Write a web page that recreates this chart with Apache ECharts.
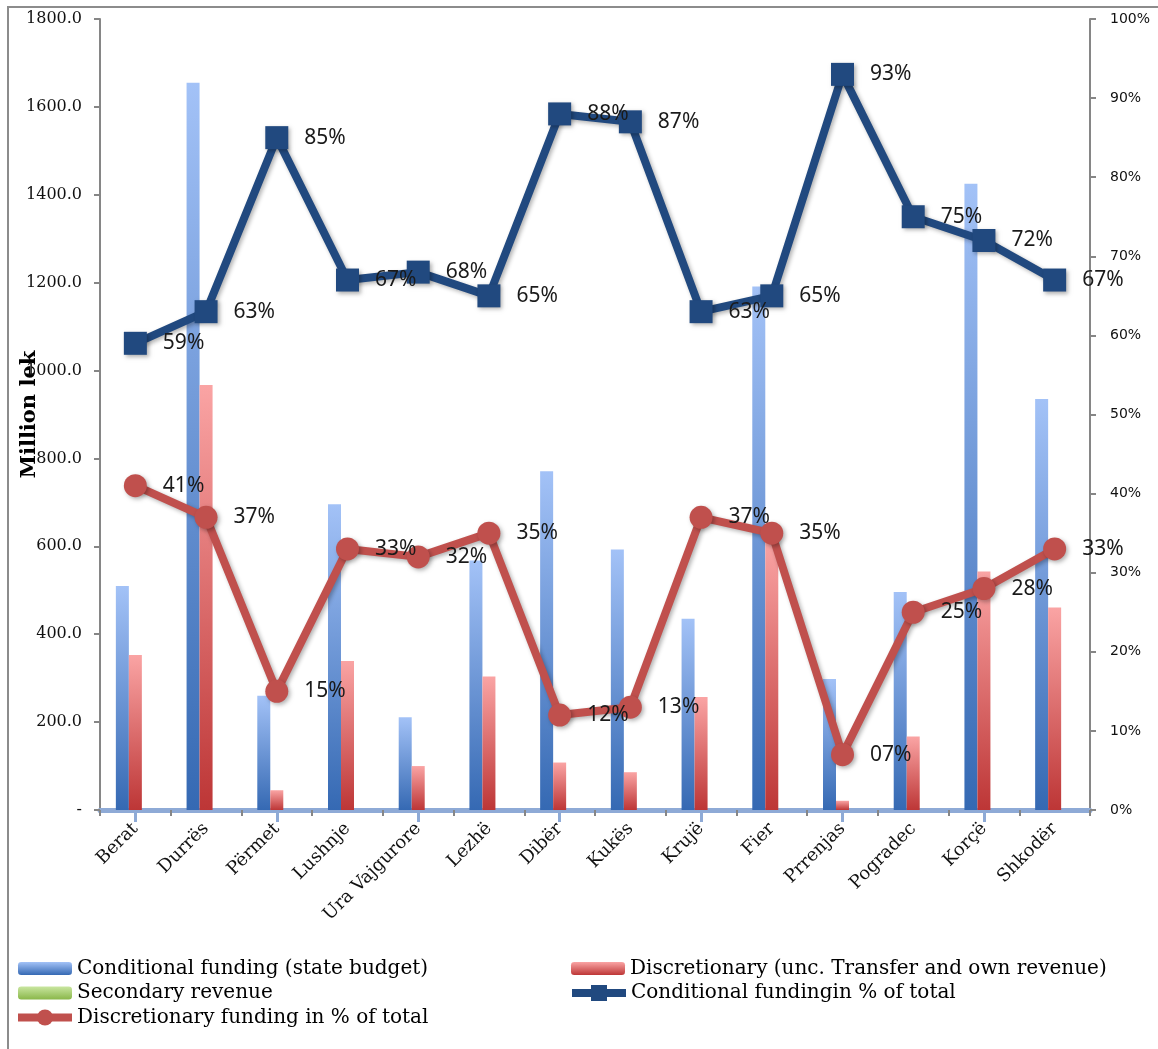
<!DOCTYPE html>
<html>
<head>
<meta charset="utf-8">
<title>Conditional and discretionary funding by municipality</title>
<script src="https://cdn.jsdelivr.net/npm/echarts@6/dist/echarts.min.js"></script>
<style>
  html, body { margin: 0; padding: 0; background: #ffffff; }
  #chart { width: 1158px; height: 1049px; }
</style>
</head>
<body>
<div id="chart"></div>
<script>
// Municipalities along the category axis
const categories = ['Berat', 'Durrës', 'Përmet', 'Lushnje', 'Ura Vajgurore', 'Lezhë', 'Dibër',
  'Kukës', 'Krujë', 'Fier', 'Prrenjas', 'Pogradec', 'Korçë', 'Shkodër'];

// Funding amounts, million lek
const conditionalFunding = [510, 1655, 260, 696, 211, 568, 771, 593, 435, 1191, 298, 496, 1425, 935];
const discretionaryFunding = [353, 967, 45, 339, 100, 304, 108, 86, 257, 615, 21, 167, 543, 461];
const secondaryRevenue = [0, 0, 0, 0, 0, 0, 0, 0, 0, 0, 0, 0, 0, 0];

// Shares of total funding, percent
const conditionalShare = [59, 63, 85, 67, 68, 65, 88, 87, 63, 65, 93, 75, 72, 67];
const discretionaryShare = [41, 37, 15, 33, 32, 35, 12, 13, 37, 35, 7, 25, 28, 33];

// Axis scales
const amountMax = 1800, amountStep = 200;
const shareMax = 100, shareStep = 10;

const chart = echarts.init(document.getElementById('chart'), null, { renderer: 'canvas' });

function vGrad(top, bottom) {
  return new echarts.graphic.LinearGradient(0, 0, 0, 1, [
    { offset: 0, color: top },
    { offset: 1, color: bottom }
  ]);
}

const pctLabel = v => String(Math.round(v)).padStart(2, '0') + '%';

const NAMES = {
  cond: 'Conditional funding (state budget)',
  disc: 'Discretionary (unc. Transfer and own revenue)',
  sec: 'Secondary revenue',
  condPct: 'Conditional fundingin % of total',
  discPct: 'Discretionary funding in % of total'
};

const BLUE_LINE = '#21497f';
const RED_LINE = '#c0504d';

const legendText = { fontFamily: 'DejaVu Serif', fontSize: 20, color: '#000', lineHeight: 21 };

// One legend block per entry, laid out in two columns under the plot
function legendEntry(item, left, top, iconHeight) {
  return {
    orient: 'horizontal',
    left: left, top: top, padding: 0,
    itemWidth: 54, itemHeight: iconHeight,
    textStyle: legendText,
    data: [item]
  };
}

const lineLabel = {
  show: true,
  position: 'right',
  distance: 16,
  fontFamily: 'Noto Sans',
  fontSize: 21,
  color: '#1a1a1a',
  formatter: p => pctLabel(p.value)
};

const shadow = { shadowColor: 'rgba(0,0,0,0.3)', shadowBlur: 4, shadowOffsetX: 2, shadowOffsetY: 2 };

const option = {
  backgroundColor: '#ffffff',
  animation: false,
  graphic: [{
    type: 'rect',
    shape: { x: 8, y: 7, width: 1300, height: 1200 },
    style: { fill: 'none', stroke: '#8c8c8c', lineWidth: 2 },
    silent: true
  }],
  grid: {
    left: 100, right: 68, top: 19, bottom: 239,
    containLabel: false,
    outerBoundsMode: 'none'
  },
  legend: [
    legendEntry({ name: NAMES.cond }, 18, 958, 13),
    legendEntry({ name: NAMES.sec }, 18, 982.5, 13),
    legendEntry({ name: NAMES.discPct, lineStyle: { width: 8, color: RED_LINE }, itemStyle: { color: RED_LINE } }, 14, 1007, 20),
    legendEntry({ name: NAMES.disc }, 571, 958, 13),
    legendEntry({ name: NAMES.condPct, lineStyle: { width: 8, color: BLUE_LINE }, itemStyle: { color: BLUE_LINE } }, 568, 982.5, 20)
  ],
  xAxis: [{
    type: 'category',
    data: categories,
    position: 'bottom',
    axisLine: { lineStyle: { color: '#868686', width: 2 } },
    axisTick: { show: true, length: 6, lineStyle: { color: '#868686', width: 2 } },
    axisLabel: {
      rotate: 45, margin: 16, interval: 0,
      fontFamily: 'DejaVu Serif', fontSize: 18, color: '#111'
    },
    splitLine: { show: false }
  }, {
    type: 'category',
    data: categories,
    position: 'bottom',
    axisLine: { lineStyle: { color: '#8eaad6', width: 5 } },
    axisTick: { show: true, alignWithLabel: true, length: 12, lineStyle: { color: '#8eaad6', width: 3 } },
    axisLabel: { show: false },
    splitLine: { show: false }
  }],
  yAxis: [{
    type: 'value',
    min: 0, max: amountMax, interval: amountStep,
    position: 'left',
    name: 'Million lek',
    nameLocation: 'middle',
    nameGap: 60,
    nameMoveOverlap: false,
    nameTextStyle: { fontFamily: 'DejaVu Serif', fontWeight: 'bold', fontSize: 21, color: '#000' },
    axisLine: { show: true, lineStyle: { color: '#868686', width: 2 } },
    axisTick: { show: true, length: 6, lineStyle: { color: '#868686', width: 2 } },
    axisLabel: {
      margin: 18,
      fontFamily: 'DejaVu Serif', fontSize: 16, color: '#111',
      formatter: v => v === 0 ? '-' : v.toFixed(1)
    },
    splitLine: { show: false }
  }, {
    type: 'value',
    min: 0, max: shareMax, interval: shareStep,
    position: 'right',
    axisLine: { show: true, lineStyle: { color: '#868686', width: 2 } },
    axisTick: { show: true, length: 6, lineStyle: { color: '#868686', width: 2 } },
    axisLabel: {
      margin: 20,
      fontFamily: 'DejaVu Sans', fontSize: 14, color: '#111',
      formatter: v => v + '%'
    },
    splitLine: { show: false }
  }],
  series: [{
    name: NAMES.cond,
    type: 'bar',
    xAxisIndex: 0, yAxisIndex: 0,
    barWidth: 13,
    barGap: '0%',
    itemStyle: { color: vGrad('#a3c2f7', '#3569b3') },
    data: conditionalFunding,
    z: 2
  }, {
    name: NAMES.disc,
    type: 'bar',
    xAxisIndex: 0, yAxisIndex: 0,
    barWidth: 13,
    barGap: '0%',
    itemStyle: { color: vGrad('#faa4a4', '#bd3636') },
    data: discretionaryFunding,
    z: 2
  }, {
    name: NAMES.sec,
    type: 'bar',
    xAxisIndex: 0, yAxisIndex: 0,
    barWidth: 13,
    barGap: '0%',
    itemStyle: { color: vGrad('#c9e6a0', '#8ab74a') },
    data: secondaryRevenue,
    z: 2
  }, {
    name: NAMES.condPct,
    type: 'line',
    xAxisIndex: 1, yAxisIndex: 1,
    data: conditionalShare,
    symbol: 'rect',
    symbolSize: 23,
    lineStyle: Object.assign({ color: BLUE_LINE, width: 8 }, shadow),
    itemStyle: Object.assign({ color: BLUE_LINE }, shadow),
    label: lineLabel,
    z: 5
  }, {
    name: NAMES.discPct,
    type: 'line',
    xAxisIndex: 1, yAxisIndex: 1,
    data: discretionaryShare,
    symbol: 'circle',
    symbolSize: 23,
    lineStyle: Object.assign({ color: RED_LINE, width: 8 }, shadow),
    itemStyle: Object.assign({ color: RED_LINE }, shadow),
    label: lineLabel,
    z: 5
  }]
};

chart.setOption(option);
</script>
</body>
</html>
